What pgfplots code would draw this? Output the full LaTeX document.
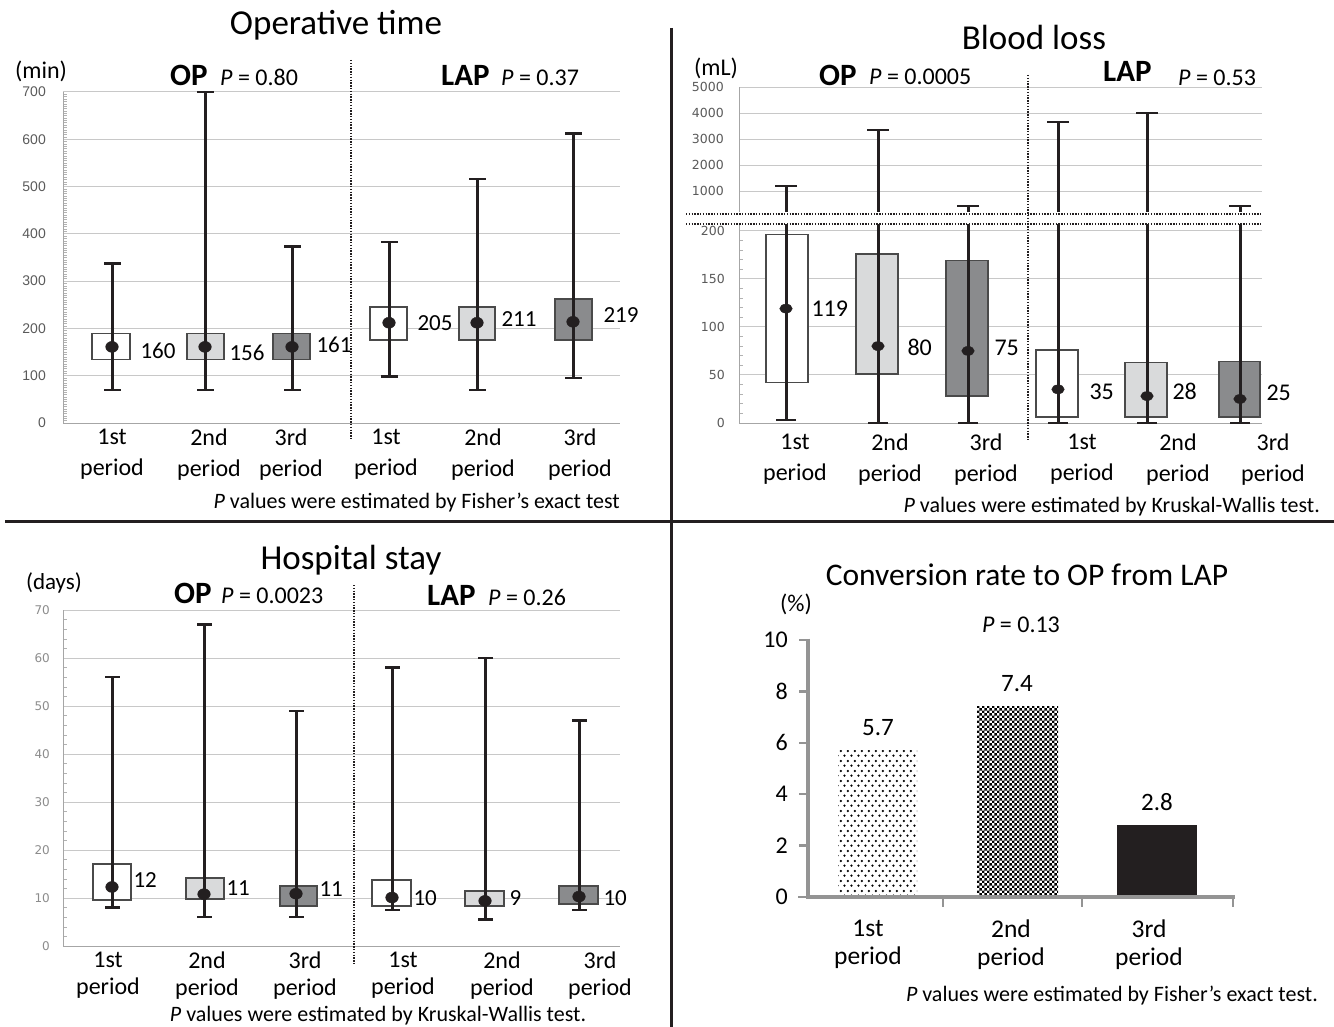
\documentclass[border=0pt]{standalone}
\usepackage{fontspec}
\setmainfont{Carlito}
\newfontfamily\lib{Liberation Sans}
\newfontfamily\dvs{DejaVu Sans}
\usepackage{pgfplots}
\pgfplotsset{compat=1.18}
\usetikzlibrary{patterns}
\definecolor{wk}{HTML}{231F20}
\definecolor{lg}{HTML}{D9DADB}
\definecolor{dg}{HTML}{8A8B8D}
\definecolor{bd}{HTML}{4A4A4A}
\definecolor{gr}{HTML}{C8C8C8}
\definecolor{tk}{HTML}{5A5A5A}
\definecolor{ax4}{HTML}{949494}
\newcommand\fs[2][1.2]{\fontsize{#2}{#1\dimexpr #2pt\relax}\selectfont}
\pgfdeclarepatternformonly{sdots}{\pgfpointorigin}{\pgfpoint{7.4pt}{10pt}}{\pgfpoint{7.4pt}{10pt}}{%
  \pgfpathcircle{\pgfpoint{1.5pt}{1.5pt}}{1.35pt}\pgfpathcircle{\pgfpoint{5.2pt}{6.5pt}}{1.35pt}\pgfusepath{fill}}
\pgfdeclarepatternformonly{chk}{\pgfpointorigin}{\pgfpoint{5.4pt}{5.4pt}}{\pgfpoint{5.4pt}{5.4pt}}{%
  \pgfpathrectangle{\pgfpointorigin}{\pgfpoint{2.7pt}{2.7pt}}\pgfpathrectangle{\pgfpoint{2.7pt}{2.7pt}}{\pgfpoint{2.7pt}{2.7pt}}\pgfusepath{fill}}
% full box: center, left, right, lo, q1, med, q3, hi, fill
\newcommand\bx[9]{%
  \addplot[draw=bd, line width=1.6pt, fill=#9] coordinates {(#2,#5) (#3,#5) (#3,#7) (#2,#7)} -- cycle;
  \addplot[wk, line width=3pt] coordinates {(#1,#4) (#1,#8)};
  \addplot[cap] coordinates {(#1,#4) (#1,#8)};
  \addplot[med] coordinates {(#1,#6)};
}
% lower part: center, left, right, lo, q1, med, q3, fill
\newcommand\bxl[8]{%
  \addplot[draw=bd, line width=1.6pt, fill=#8] coordinates {(#2,#5) (#3,#5) (#3,#7) (#2,#7)} -- cycle;
  \addplot[wk, line width=3pt] coordinates {(#1,#4) (#1,207)};
  \addplot[cap] coordinates {(#1,#4)};
  \addplot[med] coordinates {(#1,#6)};
}
\newcommand\bxu[2]{%
  \addplot[wk, line width=3pt] coordinates {(#1,200) (#1,#2)};
  \addplot[cap] coordinates {(#1,#2)};
}
\pgfplotsset{
  boxax/.style={scale only axis, anchor=south west, clip=false,
    axis lines=left, axis line style={-, draw=gray!70, line width=1pt},
    ymajorgrids, major grid style={gr, line width=1pt},
    xtick style={draw=none}, ytick style={draw=gray!60, line width=0.6pt},
    tick align=inside, major tick length=0pt, minor tick length=4pt,
    yticklabel style={text=tk, anchor=east, inner sep=0pt},
    xticklabel style={align=center, anchor=north, inner sep=0pt, text=black},
    /pgf/number format/assume math mode=true, /pgf/number format/1000 sep={},
    scaled y ticks=false,
    cap/.style={wk, line width=2.5pt, only marks, mark=-, mark size=8.5pt},
    med/.style={wk, only marks, mark=*, mark size=5.5pt, mark options={xscale=1.15}}}
}
\tikzset{xl/.style={align=center, anchor=north, inner sep=0pt, font=\fontsize{24}{31}\selectfont},
  a4/.style={draw=ax4, line width=3.5pt}, t4/.style={draw=ax4, line width=2.5pt}}
\begin{document}
\begin{tikzpicture}[x=1pt,y=1pt]
\path[use as bounding box] (0,0) rectangle (1334,-1027);

% ===== Panel 1: Operative time =====
\begin{axis}[boxax, at={(63pt,-423pt)}, width=557pt, height=331pt,
  xmin=63, xmax=620, ymin=0, ymax=700, ytick={0,100,...,700}, minor y tick num=19,
  yticklabel style={font=\lib\fs{14}, xshift=-17pt},
  xtick={112,209,291,386,483,580},
  xticklabels={{1st\\period},{2nd\\period},{3rd\\period},{1st\\period},{2nd\\period},{3rd\\period}},
  xticklabel style={font=\fontsize{24}{31}\selectfont, yshift=-6pt}]
\bx{112}{92}{130}{70}{134}{161}{189}{337}{white}
\bx{205}{187}{224}{70}{134}{161}{189}{700}{lg}
\bx{292}{273}{310}{70}{134}{161}{189}{373}{dg}
\bx{389}{370}{407}{98}{176}{212}{245.5}{383}{white}
\bx{477}{459}{495}{70}{176}{212}{245.5}{516}{lg}
\bx{573}{555}{592}{95}{176}{214}{262}{612}{dg}
\node[anchor=west, font=\fs{23}] at (axis cs:137,152) {160};
\node[anchor=west, font=\fs{23}] at (axis cs:226,148) {156};
\node[anchor=west, font=\fs{23}] at (axis cs:313,165) {161};
\node[anchor=west, font=\fs{23}] at (axis cs:414,212) {205};
\node[anchor=west, font=\fs{23}] at (axis cs:498,220) {211};
\node[anchor=west, font=\fs{23}] at (axis cs:600,229) {219};
\end{axis}
\node[anchor=base, font=\fs{35}] at (336,-35) {Operative time};
\node[font=\fs{24}] at (41,-71) {(min)};
\node[anchor=base west, inner sep=0pt, font=\fs{31}\bfseries] at (170,-86) {OP};
\node[anchor=base west, inner sep=0pt, font=\fs{24}] at (220,-86) {\textit{P} = 0.80};
\node[anchor=base west, inner sep=0pt, font=\fs{31}\bfseries] at (441,-86) {LAP};
\node[anchor=base west, inner sep=0pt, font=\fs{24}] at (501,-86) {\textit{P} = 0.37};
\node[anchor=base east, inner sep=0pt, font=\fs{22}] at (620,-508) {\textit{P} values were estimated by Fisher’s exact test};
\draw[wk, line width=1.6pt, dash pattern=on 1.4pt off 1.4pt] (351,-60) -- (351,-440);

% ===== Panel 2: Blood loss (upper) =====
\begin{axis}[boxax, at={(739pt,-212pt)}, width=523pt, height=125pt,
  xmin=739, xmax=1262, ymin=200, ymax=5000, ytick={1000,2000,3000,4000,5000},
  axis x line=none, axis y line=left, xtick=\empty,
  y axis line style={-, draw=gray!70, line width=1pt},
  yticklabel style={font=\dvs\fs{12.5}, xshift=-15pt},
  cap/.style={wk, line width=2.5pt, only marks, mark=-, mark size=11pt}]
\bxu{786}{1200}
\bxu{878}{3350}
\bxu{968}{430}
\bxu{1058}{3650}
\bxu{1147}{4000}
\bxu{1240}{430}
\end{axis}
% ===== Panel 2: Blood loss (lower) =====
\begin{axis}[boxax, at={(739pt,-423pt)}, width=523pt, height=199pt,
  xmin=739, xmax=1262, ymin=0, ymax=207, ytick={0,50,...,200}, minor y tick num=4,
  xtick=\empty,
  yticklabel style={font=\dvs\fs{12.5}, xshift=-14pt},
  cap/.style={wk, line width=2.5pt, only marks, mark=-, mark size=10pt},
  med/.style={wk, only marks, mark=*, mark size=4.5pt, mark options={xscale=1.4}}]
\bxl{786}{766}{808}{3}{42}{119}{196}{white}
\bxl{878}{856}{898}{0}{51}{80}{176}{lg}
\bxl{968}{946}{988}{0}{28}{75}{169}{dg}
\bxl{1058}{1036}{1078}{0}{6}{35}{76}{white}
\bxl{1147}{1125}{1167}{0}{6}{28}{63}{lg}
\bxl{1240}{1219}{1260}{0}{6}{25}{64}{dg}
\node[anchor=west, font=\fs{24}] at (axis cs:808,119) {119};
\node[anchor=west, font=\fs{24}] at (axis cs:904,79) {80};
\node[anchor=west, font=\fs{24}] at (axis cs:991,78) {75};
\node[anchor=west, font=\fs{24}] at (axis cs:1086,32) {35};
\node[anchor=west, font=\fs{24}] at (axis cs:1169,33) {28};
\node[anchor=west, font=\fs{24}] at (axis cs:1263,31) {25};
\node[xl] at (axis cs:795,0) [yshift=-11pt] {1st\\period};
\node[xl] at (axis cs:890,0) [yshift=-11pt] {2nd\\period};
\node[xl] at (axis cs:986,0) [yshift=-11pt] {3rd\\period};
\node[xl] at (axis cs:1082,0) [yshift=-11pt] {1st\\period};
\node[xl] at (axis cs:1178,0) [yshift=-11pt] {2nd\\period};
\node[xl] at (axis cs:1273,0) [yshift=-11pt] {3rd\\period};
\end{axis}
\node[anchor=base, font=\fs{35}] at (1034,-50) {Blood loss};
\node[font=\fs{24}] at (716,-68) {(mL)};
\node[anchor=base west, inner sep=0pt, font=\fs{31}\bfseries] at (819,-86) {OP};
\node[anchor=base west, inner sep=0pt, font=\fs{24}] at (869,-85) {\textit{P} = 0.0005};
\node[anchor=base west, inner sep=0pt, font=\fs{31}\bfseries] at (1103,-82) {LAP};
\node[anchor=base west, inner sep=0pt, font=\fs{24}] at (1178,-86) {\textit{P} = 0.53};
\node[anchor=base east, inner sep=0pt, font=\fs{22}] at (1320,-512) {\textit{P} values were estimated by Kruskal-Wallis test.};
\draw[wk, line width=1.6pt, dash pattern=on 1.4pt off 1.4pt] (1028,-75) -- (1028,-440);
\draw[wk, line width=1.6pt, dash pattern=on 1.4pt off 1.4pt] (686,-214) -- (1262,-214);
\draw[wk, line width=1.6pt, dash pattern=on 1.4pt off 1.4pt] (686,-224) -- (1262,-224);

% ===== Panel 3: Hospital stay =====
\begin{axis}[boxax, at={(63pt,-946pt)}, width=557pt, height=336pt,
  xmin=63, xmax=620, ymin=0, ymax=70, ytick={0,10,...,70}, minor y tick num=4,
  yticklabel style={font=\dvs\fs{12}, xshift=-13pt, text=gray!90},
  xtick={108,207,305,403,502,600},
  xticklabels={{1st\\period},{2nd\\period},{3rd\\period},{1st\\period},{2nd\\period},{3rd\\period}},
  xticklabel style={font=\fontsize{24}{27}\selectfont, yshift=-6pt},
  cap/.style={wk, line width=2.5pt, only marks, mark=-, mark size=7.5pt}]
\bx{112}{93}{131}{8}{9.6}{12.3}{17.1}{56}{white}
\bx{204}{186}{224}{6}{9.8}{10.8}{14.2}{67}{lg}
\bx{296}{280}{317}{6}{8.3}{10.9}{12.5}{49}{dg}
\bx{392}{372}{411}{7.5}{8.3}{10.1}{13.8}{58}{white}
\bx{485}{465}{504}{5.5}{8.3}{9.4}{11.5}{60}{lg}
\bx{579}{559}{598}{7.5}{8.8}{10.3}{12.5}{47}{dg}
\node[anchor=west, font=\fs{23}] at (axis cs:130,13.75) {12};
\node[anchor=west, font=\fs{23}] at (axis cs:223,12.1) {11};
\node[anchor=west, font=\fs{23}] at (axis cs:316,11.9) {11};
\node[anchor=west, font=\fs{23}] at (axis cs:410,10) {10};
\node[anchor=west, font=\fs{23}] at (axis cs:506,10) {9};
\node[anchor=west, font=\fs{23}] at (axis cs:600,10) {10};
\end{axis}
\node[anchor=base, font=\fs{35}] at (351,-569) {Hospital stay};
\node[font=\fs{23}] at (54,-583) {(days)};
\node[anchor=base west, inner sep=0pt, font=\fs{31}\bfseries] at (174,-603) {OP};
\node[anchor=base west, inner sep=0pt, font=\fs{24}] at (221,-603) {\textit{P} = 0.0023};
\node[anchor=base west, inner sep=0pt, font=\fs{31}\bfseries] at (427,-605) {LAP};
\node[anchor=base west, inner sep=0pt, font=\fs{24}] at (488,-605) {\textit{P} = 0.26};
\node[anchor=base, inner sep=0pt, font=\fs{22}] at (378,-1021) {\textit{P} values were estimated by Kruskal-Wallis test.};
\draw[wk, line width=1.6pt, dash pattern=on 1.4pt off 1.4pt] (354,-585) -- (354,-965);

% ===== Panel 4: Conversion rate =====
\begin{axis}[at={(808pt,-897pt)}, anchor=south west, scale only axis, width=425pt, height=257pt,
  xmin=808, xmax=1233, ymin=0, ymax=10, clip=false,
  axis lines=left,
  axis line style={-, draw=ax4, line width=3.5pt},
  ytick={0,2,...,10}, xtick={943,1082,1233}, xticklabels={},
  tick align=outside, major tick length=9pt,
  tick style={draw=ax4, line width=2.5pt},
  yticklabel style={font=\fs{24}, anchor=east, inner sep=0pt, xshift=-11pt},
  /pgf/number format/assume math mode=true,
  extra x ticks={868,1011,1149},
  extra x tick labels={{1st\\period},{2nd\\period},{3rd\\period}},
  extra x tick style={major tick length=0pt, xticklabel style={align=center, anchor=north, inner sep=0pt, font=\fontsize{25.5}{28}\selectfont, yshift=-23pt}}]
\addplot[ybar, bar shift=0pt, bar width=79, draw=none, pattern=sdots, pattern color=black] coordinates {(877.5,5.7)};
\addplot[ybar, bar shift=0pt, bar width=81, draw=none, pattern=chk, pattern color=black] coordinates {(1017.5,7.4)};
\addplot[ybar, bar shift=0pt, bar width=80, draw=none, fill=wk] coordinates {(1157,2.8)};
\draw[a4] (axis cs:808,10.05) -- (axis cs:808,0) -- (axis cs:1235,0);
\draw[t4] (axis cs:799,10) -- (axis cs:808,10);
\draw[t4] (axis cs:799,8) -- (axis cs:808,8);
\draw[t4] (axis cs:799,6) -- (axis cs:808,6);
\draw[t4] (axis cs:799,4) -- (axis cs:808,4);
\draw[t4] (axis cs:799,2) -- (axis cs:808,2);
\draw[t4] (axis cs:798,0) -- (axis cs:808,0);
\draw[t4] (axis cs:943,0) -- (axis cs:943,-0.4);
\draw[t4] (axis cs:1082,0) -- (axis cs:1082,-0.4);
\draw[t4] (axis cs:1233,0) -- (axis cs:1233,-0.4);
\node[font=\fs{25}] at (axis cs:878,6.61) {5.7};
\node[font=\fs{25}] at (axis cs:1017,8.29) {7.4};
\node[font=\fs{25}] at (axis cs:1157,3.70) {2.8};
\end{axis}
\node[anchor=base, font=\fs{31.5}] at (1027,-585) {Conversion rate to OP from LAP};
\node[font=\fs{24}] at (796,-604) {(\%)};
\node[font=\fs{24}] at (1021,-625) {\textit{P} = 0.13};
\node[anchor=base east, inner sep=0pt, font=\fs{22}] at (1318,-1001) {\textit{P} values were estimated by Fisher’s exact test.};

% ===== separators =====
\draw[wk, line width=3pt] (5,-521) -- (1334,-521);
\draw[wk, line width=3pt] (671,-28) -- (671,-1027);
\end{tikzpicture}
\end{document}
